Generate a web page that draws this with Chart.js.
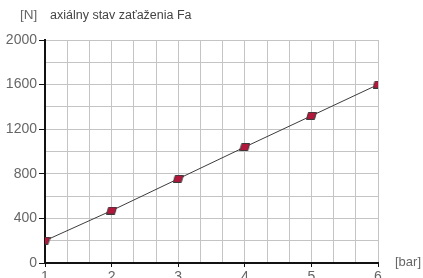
<!DOCTYPE html>
<html>
<head>
<meta charset="utf-8">
<script src="https://cdn.jsdelivr.net/npm/chart.js@4"></script>
<style>
  html, body { margin: 0; padding: 0; background: #fff; }
  #wrap { width: 423px; height: 278px; }
</style>
</head>
<body>
<div id="wrap"><canvas id="chart" width="423" height="278"></canvas></div>
<script>
// data
var pressure = [1, 2, 3, 4, 5, 6];             // [bar]
var force = [200, 470, 755, 1040, 1320, 1600]; // [N]
var yTicks = [0, 400, 800, 1200, 1600, 2000];
var xTicks = [1, 2, 3, 4, 5, 6];

// parallelogram marker
var mark = document.createElement('canvas');
mark.width = 11; mark.height = 8;
var m = mark.getContext('2d');
m.beginPath();
m.moveTo(2.5, 0.5); m.lineTo(10.5, 0.5); m.lineTo(8.5, 7.5); m.lineTo(0.5, 7.5);
m.closePath();
m.fillStyle = '#b3173c';
m.fill();
m.strokeStyle = '#3a3a3a';
m.lineWidth = 1;
m.stroke();

function isInt(v) { return Math.abs(v - Math.round(v)) < 0.01; }

var FONT = '"Liberation Sans", Arial, sans-serif';

var labels = {
  id: 'labels',
  afterDraw: function(chart) {
    var ctx = chart.ctx;
    ctx.save();
    ctx.textBaseline = 'middle';
    ctx.fillStyle = '#666';
    ctx.font = '13.5px ' + FONT;
    ctx.fillText('[N]', 20, 15);
    ctx.fillStyle = '#444';
    ctx.font = '12.5px ' + FONT;
    ctx.fillText('axiálny stav zaťaženia Fa', 50, 16);
    ctx.fillStyle = '#666';
    ctx.font = '13px ' + FONT;
    ctx.fillText('[bar]', 395, 262);
    ctx.restore();
  }
};

new Chart(document.getElementById('chart'), {
  type: 'line',
  data: {
    datasets: [{
      data: pressure.map(function(p, i) { return { x: p, y: force[i] }; }),
      borderColor: '#3c3c3c',
      borderWidth: 1,
      pointStyle: mark,
      pointRadius: 5,
      tension: 0
    }]
  },
  options: {
    responsive: false,
    animation: false,
    layout: { padding: { left: 0, right: 45, top: 40, bottom: 0 } },
    plugins: { legend: { display: false }, tooltip: { enabled: false } },
    scales: {
      x: {
        type: 'linear',
        min: xTicks[0],
        max: xTicks[xTicks.length - 1],
        afterFit: function(s) { s.height = 15; },
        border: { color: '#111', width: 2 },
        grid: {
          color: function(c) { return c.index === 0 ? 'rgba(0,0,0,0)' : '#c4c4c4'; },
          tickColor: function(c) { return isInt(c.tick.value) ? '#111' : 'rgba(0,0,0,0)'; },
          tickLength: 4,
          lineWidth: 1
        },
        ticks: {
          stepSize: 1 / 3,
          autoSkip: false,
          maxRotation: 0,
          padding: 2,
          color: '#666',
          font: { family: FONT, size: 14 },
          callback: function(v) { return isInt(v) && xTicks.indexOf(Math.round(v)) >= 0 ? String(Math.round(v)) : ''; }
        }
      },
      y: {
        min: yTicks[0],
        max: yTicks[yTicks.length - 1],
        afterFit: function(s) { s.width = 45; },
        border: { color: '#111', width: 2 },
        grid: {
          color: function(c) { return c.index === 0 ? 'rgba(0,0,0,0)' : '#c4c4c4'; },
          tickColor: function(c) { return yTicks.indexOf(c.tick.value) >= 0 ? '#111' : 'rgba(0,0,0,0)'; },
          tickLength: 6,
          lineWidth: 1
        },
        ticks: {
          stepSize: 200,
          autoSkip: false,
          padding: 2,
          color: '#666',
          font: { family: FONT, size: 14 },
          callback: function(v) { return yTicks.indexOf(v) >= 0 ? String(v) : ''; }
        }
      }
    }
  },
  plugins: [labels]
});
</script>
</body>
</html>
